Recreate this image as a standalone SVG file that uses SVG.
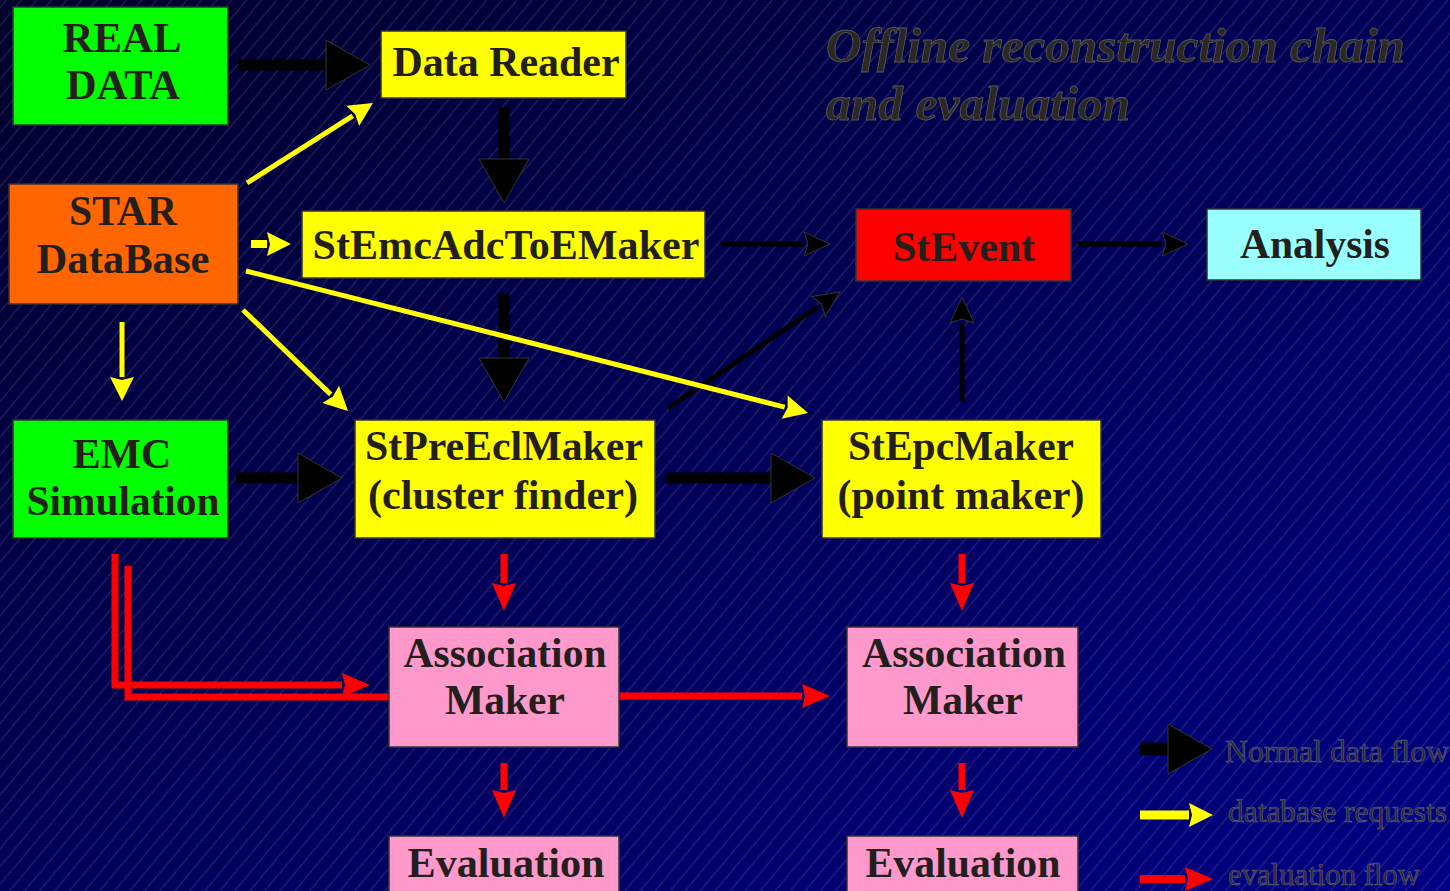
<svg xmlns="http://www.w3.org/2000/svg" width="1450" height="891" viewBox="0 0 1450 891">
<defs>
<linearGradient id="bg" x1="0" y1="0" x2="1" y2="1">
<stop offset="0" stop-color="#00002c"/>
<stop offset="0.5" stop-color="#000058"/>
<stop offset="1" stop-color="#000084"/>
</linearGradient>
<pattern id="hatch" width="11.5" height="40" patternUnits="userSpaceOnUse" patternTransform="rotate(40)">
<line x1="5" y1="0" x2="5" y2="40" stroke="#ffffff" stroke-opacity="0.25" stroke-width="0.7"/>
</pattern>
<marker id="mBig" markerUnits="userSpaceOnUse" viewBox="0 -26 46 52" markerWidth="46" markerHeight="52" refX="0" refY="0" orient="auto" overflow="visible">
<path d="M0,-25 L44,0 L0,25 z" fill="#000" stroke="#333" stroke-width="1"/>
</marker>
<marker id="mBlk" markerUnits="userSpaceOnUse" viewBox="0 -13 28 26" markerWidth="28" markerHeight="26" refX="0" refY="0" orient="auto" overflow="visible">
<path d="M0,-12 L26,0 L0,12 L4,0 z" fill="#000" stroke="#333" stroke-width="1"/>
</marker>
<marker id="mYel" markerUnits="userSpaceOnUse" viewBox="0 -13 26 26" markerWidth="26" markerHeight="26" refX="0" refY="0" orient="auto" overflow="visible">
<path d="M0,-12 L24,0 L0,12 L3,0 z" fill="#ffff00"/>
</marker>
<marker id="mRed" markerUnits="userSpaceOnUse" viewBox="0 -13 30 26" markerWidth="30" markerHeight="26" refX="0" refY="0" orient="auto" overflow="visible">
<path d="M0,-12 L28,0 L0,12 L3,0 z" fill="#ff0000"/>
</marker>
</defs>
<style>
.box{stroke:#333;stroke-width:1.5}
.green{fill:#00ff00}
.yellow{fill:#ffff00}
.orange{fill:#ff6600}
.red{fill:#ff0000}
.cyan{fill:#99ffff}
.pink{fill:#ff99cc}
.lbl{font-family:"Liberation Serif","Times New Roman",serif;font-weight:bold;font-size:42px;fill:#231f1c;text-anchor:middle}
.title{font-family:"Liberation Serif","Times New Roman",serif;font-weight:bold;font-style:italic;font-size:48px;fill:#2b2824;stroke:#5a5a5a;stroke-width:0.8}
.leg{font-family:"Liberation Serif","Times New Roman",serif;font-size:32px;fill:#26263a;stroke:#6a6a7a;stroke-width:0.6}
.cb{stroke:#000;fill:none}
.big{stroke-width:11;marker-end:url(#mBig)}
.blk{stroke-width:5;marker-end:url(#mBlk)}
.cy{stroke:#ffff00;fill:none;stroke-width:5;marker-end:url(#mYel)}
.cr{stroke:#ff0000;fill:none;stroke-width:7;marker-end:url(#mRed)}
.crn{stroke:#ff0000;fill:none;stroke-width:7}
</style>
<rect width="1450" height="891" fill="url(#bg)"/>
<rect width="1450" height="891" fill="url(#hatch)"/>

<g id="title">
<text class="title" x="826" y="62" textLength="579" lengthAdjust="spacingAndGlyphs">Offline reconstruction chain</text>
<text class="title" x="826" y="120" textLength="304" lengthAdjust="spacingAndGlyphs">and evaluation</text>
</g>

<g id="connectors">
<line class="cb big" x1="238" y1="65" x2="326" y2="65"/>
<line class="cb big" x1="504" y1="107" x2="504" y2="159"/>
<line class="cb big" x1="504" y1="294" x2="504" y2="358"/>
<line class="cb big" x1="236" y1="478" x2="298" y2="478"/>
<line class="cb big" x1="665" y1="478" x2="771" y2="478"/>
<line class="cb blk" x1="722" y1="244" x2="804" y2="244"/>
<line class="cb blk" x1="1078" y1="244" x2="1162" y2="244"/>
<line class="cb blk" x1="962" y1="402" x2="962" y2="323"/>
<line class="cb blk" x1="668" y1="408" x2="818.4" y2="306.5"/>
<line class="cy" x1="247" y1="183" x2="352.7" y2="115.9"/>
<line class="cy" x1="251" y1="244" x2="267" y2="244" style="stroke-width:8"/>
<line class="cy" x1="246" y1="271" x2="784.7" y2="407.1"/>
<line class="cy" x1="243" y1="310" x2="330.7" y2="394.4"/>
<line class="cy" x1="122" y1="322" x2="122" y2="377"/>
<line class="cr" x1="504" y1="554" x2="504" y2="583"/>
<line class="cr" x1="962" y1="554" x2="962" y2="583"/>
<line class="cr" x1="504" y1="763" x2="504" y2="790"/>
<line class="cr" x1="962" y1="763" x2="962" y2="790"/>
<line class="cr" x1="619" y1="696" x2="802" y2="696"/>
<polyline class="cr" points="115,554 115,685 342,685"/>
<polyline class="crn" points="128,566 128,697 389,697"/>
</g>

<g id="real-data">
<rect class="box green" x="13" y="7" width="215" height="118"/>
<text class="lbl" x="122" y="52" textLength="119" lengthAdjust="spacingAndGlyphs">REAL</text>
<text class="lbl" x="123" y="99" textLength="114" lengthAdjust="spacingAndGlyphs">DATA</text>
</g>
<g id="data-reader">
<rect class="box yellow" x="381" y="31" width="245" height="67"/>
<text class="lbl" x="506" y="76" textLength="227" lengthAdjust="spacingAndGlyphs">Data Reader</text>
</g>
<g id="star-database">
<rect class="box orange" x="9" y="184" width="229" height="120"/>
<text class="lbl" x="123" y="225" textLength="108" lengthAdjust="spacingAndGlyphs">STAR</text>
<text class="lbl" x="123" y="273" textLength="173" lengthAdjust="spacingAndGlyphs">DataBase</text>
</g>
<g id="stemcadc">
<rect class="box yellow" x="302" y="211" width="403" height="67"/>
<text class="lbl" x="506" y="259" textLength="387" lengthAdjust="spacingAndGlyphs">StEmcAdcToEMaker</text>
</g>
<g id="stevent">
<rect class="box red" x="856" y="209" width="215" height="72"/>
<text class="lbl" x="964" y="261" textLength="142" lengthAdjust="spacingAndGlyphs">StEvent</text>
</g>
<g id="analysis">
<rect class="box cyan" x="1207" y="209" width="214" height="71"/>
<text class="lbl" x="1315" y="258" textLength="150" lengthAdjust="spacingAndGlyphs">Analysis</text>
</g>
<g id="emc-simulation">
<rect class="box green" x="13" y="420" width="215" height="118"/>
<text class="lbl" x="122" y="468" textLength="99" lengthAdjust="spacingAndGlyphs">EMC</text>
<text class="lbl" x="123" y="515" textLength="193" lengthAdjust="spacingAndGlyphs">Simulation</text>
</g>
<g id="stpreeclmaker">
<rect class="box yellow" x="355" y="420" width="300" height="118"/>
<text class="lbl" x="504" y="460" textLength="278" lengthAdjust="spacingAndGlyphs">StPreEclMaker</text>
<text class="lbl" x="503" y="509" textLength="270" lengthAdjust="spacingAndGlyphs">(cluster finder)</text>
</g>
<g id="stepcmaker">
<rect class="box yellow" x="822" y="420" width="279" height="118"/>
<text class="lbl" x="961" y="460" textLength="226" lengthAdjust="spacingAndGlyphs">StEpcMaker</text>
<text class="lbl" x="961" y="509" textLength="247" lengthAdjust="spacingAndGlyphs">(point maker)</text>
</g>
<g id="assoc-1">
<rect class="box pink" x="389" y="627" width="230" height="120"/>
<text class="lbl" x="505" y="667" textLength="203" lengthAdjust="spacingAndGlyphs">Association</text>
<text class="lbl" x="505" y="714" textLength="120" lengthAdjust="spacingAndGlyphs">Maker</text>
</g>
<g id="assoc-2">
<rect class="box pink" x="847" y="627" width="231" height="120"/>
<text class="lbl" x="964" y="667" textLength="204" lengthAdjust="spacingAndGlyphs">Association</text>
<text class="lbl" x="963" y="714" textLength="120" lengthAdjust="spacingAndGlyphs">Maker</text>
</g>
<g id="eval-1">
<rect class="box pink" x="389" y="836" width="230" height="70"/>
<text class="lbl" x="506" y="877" textLength="197" lengthAdjust="spacingAndGlyphs">Evaluation</text>
</g>
<g id="eval-2">
<rect class="box pink" x="847" y="836" width="231" height="70"/>
<text class="lbl" x="963" y="877" textLength="195" lengthAdjust="spacingAndGlyphs">Evaluation</text>
</g>

<g id="legend">
<line class="cb big" x1="1140" y1="749" x2="1168" y2="749" style="stroke-width:13"/>
<line class="cy" x1="1140" y1="815" x2="1189" y2="815" style="stroke-width:9"/>
<line class="cr" x1="1140" y1="879" x2="1185" y2="879" style="stroke-width:8"/>
<text class="leg" x="1225" y="762" textLength="224" lengthAdjust="spacingAndGlyphs">Normal data flow</text>
<text class="leg" x="1228" y="822" textLength="219" lengthAdjust="spacingAndGlyphs">database requests</text>
<text class="leg" x="1228" y="885" textLength="192" lengthAdjust="spacingAndGlyphs">evaluation flow</text>
</g>
</svg>
